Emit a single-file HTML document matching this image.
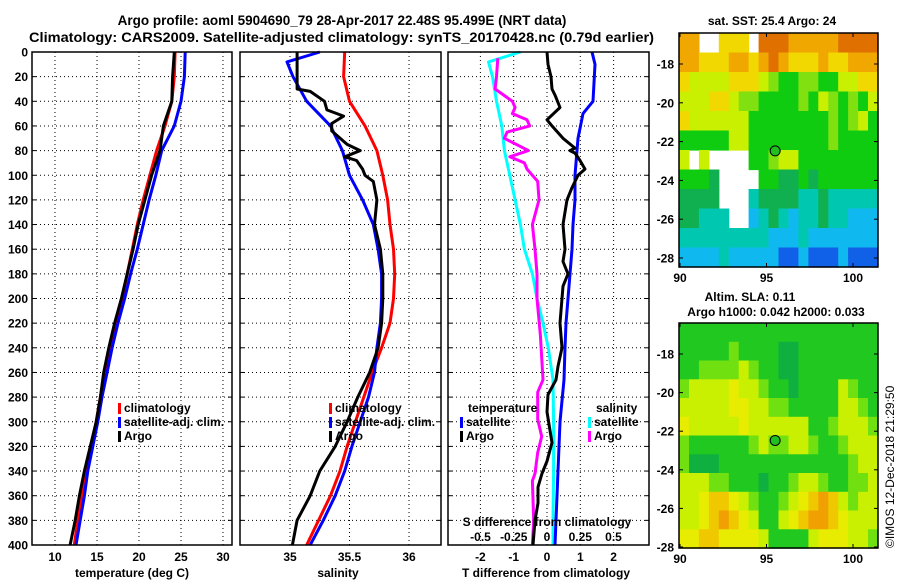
<!DOCTYPE html>
<html><head><meta charset="utf-8"><style>
html,body{margin:0;padding:0;background:#fff;}
svg{display:block;font-family:"Liberation Sans",Arial,sans-serif;font-weight:bold;}
</style></head><body>
<svg id="chart" width="900" height="580" viewBox="0 0 900 580" xmlns="http://www.w3.org/2000/svg">
<rect width="900" height="580" fill="#fff"/>
<text x="342" y="25" font-size="13.5" text-anchor="middle">Argo profile: aoml 5904690_79 28-Apr-2017 22.48S 95.499E (NRT data)</text>
<text x="29" y="42" font-size="13.5" textLength="625" lengthAdjust="spacingAndGlyphs">Climatology: CARS2009. Satellite-adjusted climatology: synTS_20170428.nc (0.79d earlier)</text>
<g id="grids"></g>
<g id="curves"></g>
<g id="frames"></g>
<g id="labels" font-size="12"></g>
<g id="maps"></g>
<text x="0" y="0" font-size="12" font-weight="normal" transform="translate(894,548) rotate(-90)">©IMOS 12-Dec-2018 21:29:50</text>
</svg>
<script>
// ---------- data ----------
const depth20 = [0,20,40,60,80,100,120,140,160,180,200,220,240,260,280,300,320,340,360,380,400];
const tempClim = [24.3,24.2,23.9,23.1,22.1,21.3,20.5,19.8,19.2,18.6,18.0,17.3,16.5,16.0,15.4,14.9,14.3,13.7,13.2,12.7,12.3];
const tempSat  = [25.5,25.4,25.0,24.2,22.7,22.0,21.2,20.5,19.8,19.0,18.3,17.5,16.8,16.2,15.6,15.1,14.5,13.9,13.5,13.0,12.5];
const tempArgo = [24.2,24.0,23.9,22.9,22.5,21.5,20.7,19.9,19.3,18.6,17.9,17.1,16.4,15.8,15.4,14.9,14.2,13.5,12.9,12.4,11.8];

const salClim = [35.46,35.45,35.50,35.63,35.73,35.78,35.82,35.84,35.87,35.88,35.87,35.84,35.77,35.69,35.62,35.55,35.48,35.42,35.34,35.24,35.14];
const salSatDepth = [0,8,20,40,60,80,100,120,140,160,180,200,220,240,260,280,300,320,340,360,380,400];
const salSat = [35.25,34.975,35.025,35.14,35.34,35.44,35.50,35.61,35.70,35.74,35.77,35.77,35.76,35.73,35.71,35.66,35.59,35.52,35.46,35.38,35.28,35.17];
const salArgoDepth = [0,30,32,40,47,52,58,64,75,80,85,88,95,100,105,120,140,160,180,200,220,240,260,280,300,320,340,360,380,400];
const salArgo = [35.06,35.06,35.17,35.29,35.31,35.45,35.35,35.35,35.48,35.59,35.46,35.56,35.61,35.63,35.70,35.73,35.71,35.76,35.78,35.78,35.77,35.74,35.67,35.57,35.48,35.38,35.25,35.17,35.06,35.02];

const dTSatDepth = [0,10,40,50,70,80,100,120,140,160,180,200,220,240,266,300,340,380,400];
const dTSat = [1.35,1.44,1.38,1.08,0.93,0.90,0.84,0.84,0.78,0.75,0.69,0.63,0.57,0.54,0.51,0.39,0.33,0.27,0.24];
const dTArgoDepth = [0,10,20,30,35,45,55,60,70,78,80,82,88,95,100,110,120,140,160,170,180,190,200,220,240,255,266,278,292,317,332,342,353,366,380,400];
const dTArgo = [0,0.03,0.12,0.15,0.24,0.39,0,0.15,0.48,0.84,0.69,0.84,0.99,1.14,0.93,0.75,0.60,0.48,0.54,0.48,0.63,0.48,0.45,0.39,0.45,0.33,0.27,0.03,0,0.15,0,-0.15,-0.27,-0.27,-0.36,-0.42];
const dSSatDepth = [0,8,20,40,60,80,100,120,140,160,180,200,220,240,266,300,340,380,400];
const dSSat = [-0.20,-0.44,-0.41,-0.38,-0.34,-0.32,-0.28,-0.24,-0.20,-0.17,-0.11,-0.075,-0.03,0.01,0.045,0.05,0.05,0.045,0.045];
const dSArgoDepth = [5,20,30,40,45,50,55,60,65,70,75,80,85,90,95,100,105,120,140,160,180,200,230,266,276,298,312,325,342,348,380,400];
const dSArgo = [-0.37,-0.38,-0.39,-0.26,-0.24,-0.26,-0.15,-0.13,-0.30,-0.32,-0.23,-0.14,-0.28,-0.17,-0.15,-0.11,-0.07,-0.06,-0.11,-0.09,-0.075,-0.075,-0.05,-0.03,-0.07,-0.07,-0.04,-0.07,-0.09,-0.11,-0.10,-0.11];

const depthTicks = [0,20,40,60,80,100,120,140,160,180,200,220,240,260,280,300,320,340,360,380,400];
const tempTicks = [10,15,20,25,30];
const salTicks = [35,35.5,36];
const salTickLabels = ["35","35.5","36"];
const dTTicks = [-2,-1,0,1,2];
const dSTicks = [-0.5,-0.25,0,0.25,0.5];
const dSTickLabels = ["-0.5","-0.25","0","0.25","0.5"];

const sstRows = [
"88..777.999888889999","88777887898777877888","76666777654455446677","66677655444454654546",
"76666664444444454564","44444664444444454444","6.6....4456644444444","4443....443343444444",
"3333...2333322322222","33222..1232122322111","22222222211121111111","11112111110010001000"];
const sstPalette = ["#1060e8","#10b8f0","#00c8b0","#10b050","#10cc10","#80e010","#c8f000","#f0d800","#f0a800","#e07000"];
const slaRows = [
"11111111111111111111","11111211110011111111","11222232110011111111","23333433211011113211",
"33333443322111113321","43333343333331123332","21111112322332112333","20001111111111111233",
"33322111011233211223","33455432112345653233","33456543113456654333","44554444311113444332"];
const slaPalette = ["#10b040","#20c820","#70e010","#c8f000","#e8ec00","#f0c800","#f0a000"];
const argoLon = 95.5, argoLat = -22.48;
const mapLonTicks = [90,95,100];
const mapLatTicks = [-18,-20,-22,-24,-26,-28];

// ---------- scales ----------
const yD = d => 52 + d * 1.2325;
const xT = v => 55 + (v - 10) * 8.4;
const xS = v => 290 + (v - 35) * 119;
const xdT = v => 547 + v * 33.3;
const xdS = v => 547 + v * 133;
const NS = "http://www.w3.org/2000/svg";
function mk(tag, attrs, parent){const e=document.createElementNS(NS,tag);for(const k in attrs)e.setAttribute(k,attrs[k]);parent.appendChild(e);return e;}
const G = id => document.getElementById(id);
const panels = [{x0:32,x1:232,name:'temperature'},{x0:240,x1:441,name:'salinity'},{x0:448,x1:649,name:'difference'}];

panels.forEach((p,i)=>{
  const vt = i===0? tempTicks.map(xT) : i===1? salTicks.map(xS) : dTTicks.map(xdT);
  depthTicks.forEach(d=>{ if(d===0||d===400) return;
    const l=mk('line',{x1:p.x0,x2:p.x1,y1:yD(d),y2:yD(d),stroke:'#000','stroke-width':1,'stroke-dasharray':'1,3'},G('grids'));
    
    
    mk('line',{x1:p.x0,x2:p.x0+4,y1:yD(d),y2:yD(d),stroke:'#000'},G('grids'));
    mk('line',{x1:p.x1-4,x2:p.x1,y1:yD(d),y2:yD(d),stroke:'#000'},G('grids'));
  });
  vt.forEach(x=>{
    const l=mk('line',{x1:x,x2:x,y1:yD(0),y2:yD(400),stroke:'#000','stroke-width':1,'stroke-dasharray':'1,3'},G('grids'));
    
    
  });
  const f=mk('rect',{x:p.x0,y:yD(0),width:p.x1-p.x0,height:yD(400)-yD(0),fill:'none',stroke:'#000','stroke-width':1.5},G('frames'));
  
  
});

function curve(depths, vals, xf, color, name){
  const pts = depths.map((d,i)=>xf(vals[i]).toFixed(1)+','+yD(d).toFixed(1)).join(' ');
  const e=mk('polyline',{points:pts,fill:'none',stroke:color,'stroke-width':3,'stroke-linejoin':'round'},G('curves'));
  
  
}
curve(depth20,tempClim,xT,'#ff0000','temperature-climatology-line');
curve(depth20,tempSat,xT,'#0000ff','temperature-satellite-line');
curve(depth20,tempArgo,xT,'#000000','temperature-argo-line');
curve(depth20,salClim,xS,'#ff0000','salinity-climatology-line');
curve(salSatDepth,salSat,xS,'#0000ff','salinity-satellite-line');
curve(salArgoDepth,salArgo,xS,'#000000','salinity-argo-line');
curve(dSSatDepth,dSSat,xdS,'#00ffff','s-diff-satellite-line');
curve(dSArgoDepth,dSArgo,xdS,'#ff00ff','s-diff-argo-line');
curve(dTSatDepth,dTSat,xdT,'#0000ff','t-diff-satellite-line');
curve(dTArgoDepth,dTArgo,xdT,'#000000','t-diff-argo-line');

const L = G('labels');
function txt(x,y,s,anchor,name,size){const t=mk('text',{x:x,y:y,'text-anchor':anchor||'start'},L);if(size)t.setAttribute('font-size',size);t.textContent=s;return t;}
depthTicks.forEach(d=>txt(28,yD(d)+4.5,String(d),'end','depth-tick-label'));
tempTicks.forEach(v=>txt(xT(v),561,String(v),'middle','temperature-tick-label'));
salTicks.forEach((v,i)=>txt(xS(v),561,salTickLabels[i],'middle','salinity-tick-label'));
dTTicks.forEach(v=>txt(xdT(v),561,String(v),'middle','t-diff-tick-label'));
dSTicks.forEach((v,i)=>txt(xdS(v),541,dSTickLabels[i],'middle','s-diff-tick-label'));
txt(132,577,'temperature (deg C)','middle','temperature-axis-title');
txt(338,577,'salinity','middle','salinity-axis-title');
txt(546,577,'T difference from climatology','middle','t-diff-axis-title');
txt(547,526,'S difference from climatology','middle','s-diff-axis-title');
function leg(x,y,color,s,name){
  const r=mk('rect',{x:x,y:y-9,width:3,height:11,fill:color},L);
  
  
  txt(x+6,y,s,'start',name);
}
leg(118,412,'#ff0000','climatology','legend-temp-climatology');
leg(118,426,'#0000ff','satellite-adj. clim.','legend-temp-satellite');
leg(118,440,'#000000','Argo','legend-temp-argo');
leg(329,412,'#ff0000','climatology','legend-sal-climatology');
leg(329,426,'#0000ff','satellite-adj. clim.','legend-sal-satellite');
leg(329,440,'#000000','Argo','legend-sal-argo');
txt(468,412,'temperature','start','legend-temperature-heading');
txt(596,412,'salinity','start','legend-salinity-heading');
leg(460,426,'#0000ff','satellite','legend-tdiff-satellite');
leg(460,440,'#000000','Argo','legend-tdiff-argo');
leg(588,426,'#00ffff','satellite','legend-sdiff-satellite');
leg(588,440,'#ff00ff','Argo','legend-sdiff-argo');

const M = G('maps');
function drawMap(rows,pal,x0,y0,x1,y1,lon2x,lat2y,name){
  const nr=rows.length,nc=20,cw=(x1-x0)/nc,ch=(y1-y0)/nr;
  rows.forEach((row,r)=>{ for(let c=0;c<nc;c++){ const ch_=row[c]; if(ch_===undefined||ch_==='.') continue;
    const cell=mk('rect',{x:(x0+c*cw).toFixed(1),y:(y0+r*ch).toFixed(1),width:(cw+0.6).toFixed(1),height:(ch+0.6).toFixed(1),fill:pal[+ch_]},M);
    
    
  }});
  const f=mk('rect',{x:x0,y:y0,width:x1-x0,height:y1-y0,fill:'none',stroke:'#000','stroke-width':1.5},M);
  
  
  mapLatTicks.forEach(v=>{const y=lat2y(v);
    mk('line',{x1:x0,x2:x0+4,y1:y,y2:y,stroke:'#000'},M);mk('line',{x1:x1-4,x2:x1,y1:y,y2:y,stroke:'#000'},M);
    const t=mk('text',{x:x0-5,y:y+4.5,'text-anchor':'end','font-size':12},M);t.textContent=String(v);
    
    });
  mapLonTicks.forEach(v=>{const x=lon2x(v);
    mk('line',{x1:x,x2:x,y1:y0,y2:y0+4,stroke:'#000'},M);mk('line',{x1:x,x2:x,y1:y1-4,y2:y1,stroke:'#000'},M);
    const t=mk('text',{x:x,y:y1+15,'text-anchor':'middle','font-size':12},M);t.textContent=String(v);
    
    });
  const m=mk('circle',{cx:lon2x(argoLon),cy:lat2y(argoLat),r:5,fill:'#20c020',stroke:'#000','stroke-width':1},M);
  
  
}
drawMap(sstRows,sstPalette,679,33,878,267,v=>680+(v-90)*17.3,v=>64+(-18-v)*19.4,'sst-map');
drawMap(slaRows,slaPalette,679,323,878,548,v=>680+(v-90)*17.3,v=>354+(-18-v)*19.3,'sla-map');
function mt(x,y,s,name){const t=mk('text',{x:x,y:y,'text-anchor':'middle','font-size':12},M);t.textContent=s;}
mt(772,25,'sat. SST: 25.4 Argo: 24','sst-map-title');
mt(750,301,'Altim. SLA: 0.11','sla-map-title');
mt(776,316,'Argo h1000: 0.042 h2000: 0.033','sla-map-subtitle');
</script>
</body></html>
